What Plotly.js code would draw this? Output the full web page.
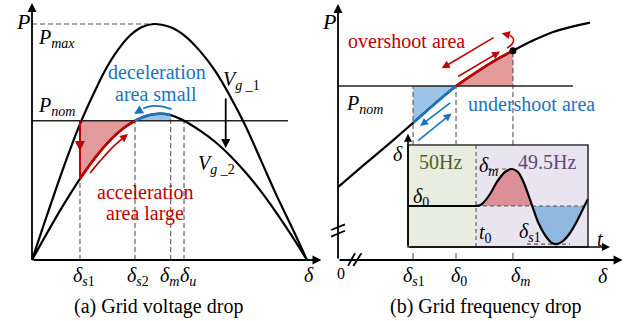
<!DOCTYPE html>
<html><head><meta charset="utf-8">
<script src="https://cdn.plot.ly/plotly-3.0.1.min.js"></script>
<style>html,body{margin:0;padding:0;background:#fff}</style>
</head><body><div id="chart" style="width:630px;height:321px"></div>
<script>
// ---------- Panel (a): power-angle curves (delta in degrees, P per unit of Pmax) ----------
const deltaVg1 = [0,8,16,24,32,40,48,56,64,72,80,90,100,110,120,130,140,150,160,170,180];
const pVg1     = [0,0.155,0.307,0.452,0.585,0.70,0.805,0.888,0.95,0.987,1.0,0.988,0.95,0.885,0.80,0.69,0.565,0.42,0.275,0.14,0];
const deltaVg2 = [0,10,20,31.4,42,52,60,67.4,76,83.8,90.8,99.5,110,120,130,140,150,160,170,180];
const pVg2     = [0,0.116,0.227,0.344,0.439,0.513,0.559,0.59,0.613,0.62,0.614,0.59,0.548,0.50,0.44,0.37,0.29,0.20,0.103,0];
const PnomA = 0.59, PmaxA = 1.0;
const tickValsA = [31.4, 67.4, 90.8, 99.5];
const tickTextA = ['<i>δ</i><sub><i>s</i>1</sub>','<i>δ</i><sub><i>s</i>2</sub>','<i>δ</i><sub><i>m</i></sub>','<i>δ</i><sub><i>u</i></sub>'];

// ---------- Panel (b): P-delta curve near operating point ----------
const deltaB = [0,9.7,19.4,26.9,34.4,42.3,49.1,55.9,62.7,69.9,77.1,83.9,90.3];
const pB     = [0.309,0.407,0.504,0.581,0.659,0.737,0.792,0.843,0.887,0.930,0.966,0.989,1.006];
const PnomB = 0.737;
const tickValsB = [26.9, 42.3, 62.7];
const tickTextB = ['<i>δ</i><sub><i>s</i>1</sub>','<i>δ</i><sub>0</sub>','<i>δ</i><sub><i>m</i></sub>'];

// ---------- Inset: delta(t) ----------
const tIn = [0,0.378,0.4,0.417,0.456,0.494,0.539,0.578,0.611,0.644,0.69,0.722,0.761,0.8,0.828,0.861,0.9,0.939,0.98,1.0];
const dIn = [0,0,0.02,0.081,0.324,0.649,0.919,1.0,0.919,0.622,0,-0.432,-0.784,-1.0,-1.03,-0.946,-0.73,-0.405,0,0.189];
const t0 = 0.378;

const W = 630, H = 321;
const FONT = '"Liberation Serif", "Times New Roman", "DejaVu Serif", serif';
const RED = '#c00000', BLUE = '#1a73c0', GREY = '#555555';
const REDFILL = '#e39a9a', BLUEFILL = '#9dc3e6';

function tr(x, y, xa, ya, color, width, extra) {
  return Object.assign({type:'scatter', mode:'lines', x:x, y:y, xaxis:xa, yaxis:ya,
    line:{color:color, width:width}, hoverinfo:'skip', showlegend:false}, extra || {});
}
function spline(color, width, sm) { return {shape:'spline', smoothing:sm || 1, color:color, width:width}; }
function at(arr, val) { return arr.indexOf(val); }

const traces = [];
// ---- panel (a)
const iS1 = at(deltaVg2, tickValsA[0]), iS2 = at(deltaVg2, tickValsA[1]), iM = at(deltaVg2, tickValsA[2]);
traces.push(tr([tickValsA[0], tickValsA[1]].concat(deltaVg2.slice(iS1, iS2+1).reverse()),
               [PnomA, PnomA].concat(pVg2.slice(iS1, iS2+1).reverse()), 'x','y', REDFILL, 0,
               {fill:'toself', fillcolor:REDFILL}));
traces.push(tr([tickValsA[1]].concat(deltaVg2.slice(iS2, iM+1), [tickValsA[2]]),
               [PnomA].concat(pVg2.slice(iS2, iM+1), [PnomA]), 'x','y', BLUEFILL, 0,
               {fill:'toself', fillcolor:BLUEFILL}));
const peakA = deltaVg1[pVg1.indexOf(PmaxA)];
traces.push(tr([0, peakA], [PmaxA, PmaxA], 'x','y', GREY, 1.1, {line:{color:GREY,width:1.1,dash:'5px,3px'}}));
const dashX = [], dashY = [];
tickValsA.forEach((v, k) => {
  const top = (k === 1 || k === 3) ? PnomA : pVg2[at(deltaVg2, v)];
  dashX.push(v, v, null); dashY.push(0, top, null);
});
traces.push(tr(dashX, dashY, 'x','y', GREY, 1.1, {line:{color:GREY,width:1.1,dash:'5px,3px'}}));
traces.push(tr([0, 167.6], [PnomA, PnomA], 'x','y', '#222', 1.6));
traces.push(tr(deltaVg1, pVg1, 'x','y', '#000', 2.2, {line:spline('#000',2.2)}));
traces.push(tr(deltaVg2, pVg2, 'x','y', '#000', 2.2, {line:spline('#000',2.2)}));
traces.push(tr(deltaVg2.slice(iS1, iS2+1), pVg2.slice(iS1, iS2+1), 'x','y', RED, 2.6, {line:spline(RED,2.6)}));
traces.push(tr(deltaVg2.slice(iS2, iM+1), pVg2.slice(iS2, iM+1), 'x','y', BLUE, 2.6, {line:spline(BLUE,2.6)}));
traces.push(tr([tickValsA[0], tickValsA[0]], [PnomA, pVg2[iS1]], 'x','y', RED, 2));
traces.push(tr([38, 44.5, 52.4, 58.9], [0.369, 0.419, 0.475, 0.513], 'x','y', RED, 1.6, {line:spline(RED,1.6)}));
traces.push(tr([91.4, 85.7, 79.2, 72.7], [0.639, 0.650, 0.653, 0.642], 'x','y', BLUE, 1.8, {line:spline(BLUE,1.8)}));

// ---- panel (b)
const jS1 = at(deltaB, tickValsB[0]), j0 = at(deltaB, tickValsB[1]), jM = at(deltaB, tickValsB[2]);
traces.push(tr([tickValsB[0]].concat(deltaB.slice(jS1, j0+1)), [PnomB].concat(pB.slice(jS1, j0+1)),
               'x2','y2', BLUEFILL, 0, {fill:'toself', fillcolor:BLUEFILL}));
traces.push(tr(deltaB.slice(j0, jM+1).concat([tickValsB[2]]), pB.slice(j0, jM+1).concat([PnomB]),
               'x2','y2', REDFILL, 0, {fill:'toself', fillcolor:REDFILL}));
const insetTopP = 0.487;
const dx2 = [], dy2 = [], tx2 = [], ty2 = [];
tickValsB.forEach((v, k) => {
  const top = k === 2 ? pB[jM] : PnomB;
  dx2.push(v, v, null); dy2.push(insetTopP, top, null);
  tx2.push(v, v, null); ty2.push(0, 0.03, null);
});
traces.push(tr(dx2, dy2, 'x2','y2', GREY, 1.1, {line:{color:GREY,width:1.1,dash:'5px,3px'}}));
traces.push(tr(tx2, ty2, 'x2','y2', GREY, 1.1));
traces.push(tr([0, 84.2], [PnomB, PnomB], 'x2','y2', '#222', 1.6));
traces.push(tr(deltaB, pB, 'x2','y2', '#000', 2.2, {line:spline('#000',2.2)}));
traces.push(tr(deltaB.slice(jS1, j0+1), pB.slice(jS1, j0+1), 'x2','y2', BLUE, 2.6, {line:spline(BLUE,2.6)}));
traces.push(tr(deltaB.slice(j0, jM+1), pB.slice(j0, jM+1), 'x2','y2', RED, 2.6, {line:spline(RED,2.6)}));
traces.push({type:'scatter', mode:'markers', x:[deltaB[jM]], y:[pB[jM]], xaxis:'x2', yaxis:'y2',
             marker:{color:'#000', size:7}, hoverinfo:'skip', showlegend:false});
traces.push(tr([60.6, 62.4, 62.9, 61.6], [0.898, 0.915, 0.936, 0.953], 'x2','y2', RED, 1.6, {line:spline(RED,1.6)}));
traces.push(tr([-2.5, 2.5, null, -2.5, 2.5], [0.127, 0.151, null, 0.099, 0.124], 'x2','y2', '#000', 1.8));
traces.push(tr([3.6, 6.1, null, 5.5, 8.4], [-0.025, 0.029, null, -0.025, 0.029], 'x2','y2', '#000', 1.8));

// ---- inset
const kT0 = at(tIn, t0), kC1 = dIn.indexOf(0, kT0 + 2), kC2 = dIn.indexOf(0, kC1 + 1);
traces.push(tr(tIn.slice(kT0, kC1+1), dIn.slice(kT0, kC1+1), 'x3','y3', '#dc8f96', 0,
               {fill:'toself', fillcolor:'#dc8f96', line:{shape:'spline', smoothing:0.8, width:0, color:'#dc8f96'}}));
traces.push(tr(tIn.slice(kC1, kC2+1), dIn.slice(kC1, kC2+1), 'x3','y3', '#8fb8e0', 0,
               {fill:'toself', fillcolor:'#8fb8e0', line:{shape:'spline', smoothing:0.8, width:0, color:'#8fb8e0'}}));
traces.push(tr([t0, 1, null, 0.444, tIn[dIn.indexOf(1.0)], null, 0.661, 0.9, null, t0, t0],
               [0, 0, null, 1.0, 1.0, null, -1.03, -1.03, null, -1.108, 1.649], 'x3','y3', GREY, 1.1,
               {line:{color:GREY, width:1.1, dash:'4px,3px'}}));
traces.push(tr(tIn.slice(0, kT0+1), dIn.slice(0, kT0+1), 'x3','y3', '#000', 2.2));
traces.push(tr(tIn.slice(kT0), dIn.slice(kT0), 'x3','y3', '#000', 2.2, {line:spline('#000',2.2,0.8)}));

const shapes = [
  {type:'rect', xref:'x3', yref:'y3', x0:0, x1:t0, y0:-1.108, y1:1.649, fillcolor:'#e9ede0', line:{width:0}, layer:'below'},
  {type:'rect', xref:'x3', yref:'y3', x0:t0, x1:1, y0:-1.108, y1:1.649, fillcolor:'#e8e5f0', line:{width:0}, layer:'below'},
  {type:'rect', xref:'x3', yref:'y3', x0:0, x1:1, y0:-1.108, y1:1.649, line:{color:'#333', width:1.6}, layer:'above'}
];

function arrow(xa, ya, x, y, ax, ay, color, width) {
  return {xref:xa, yref:ya, axref:xa, ayref:ya, x:x, y:y, ax:ax, ay:ay, text:'', showarrow:true,
          arrowhead:2, arrowsize:1, arrowwidth:width || 1.6, arrowcolor:color || '#000', standoff:0};
}
function lab(text, left, cy, color, size, extra) {
  return Object.assign({xref:'paper', yref:'paper', x:left / W, y:1 - cy / H, xanchor:'left', yanchor:'middle',
    text:text, showarrow:false, font:{family:FONT, size:size || 20, color:color || '#000'}}, extra || {});
}
function tick(xa, v, text, shift) {
  return {xref:xa, yref:'paper', x:v, y:1 - 276 / H, xanchor:'left', yanchor:'middle', xshift:shift,
          text:text, showarrow:false, font:{family:FONT, size:20, color:'#000'}};
}

const annotations = [
  arrow('x','y', 0, 1.089, 0, 0, '#000', 1.8),
  arrow('x','y', 189.5, 0, 0, 0, '#000', 1.8),
  arrow('x2','y2', 0, 1.085, 0, 0, '#000', 1.8),
  arrow('x2','y2', 102, 0, 0, 0, '#000', 1.8),
  arrow('x3','y3', 0, 1.95, 0, -1.108, '#000', 1.6),
  arrow('x3','y3', 1.122, -1.108, 0, -1.108, '#000', 1.6),
  arrow('x','y', 126.8, 0.475, 126.8, 0.691, '#000', 1.8),
  arrow('x','y', tickValsA[0], 0.462, tickValsA[0], PnomA, RED, 2),
  arrow('x','y', 62.8, 0.534, 58.9, 0.513, RED, 1.6),
  arrow('x','y', 66.8, 0.619, 72.7, 0.642, BLUE, 1.8),
  arrow('x2','y2', 37.2, 0.812, 56.3, 0.946, RED, 1.6),
  arrow('x2','y2', 58.1, 0.883, 42.5, 0.774, RED, 1.6),
  arrow('x2','y2', 58.7, 0.961, 61.6, 0.953, RED, 1.6),
  arrow('x2','y2', 29.4, 0.568, 40.75, 0.671, BLUE, 1.6),
  arrow('x2','y2', 40.75, 0.622, 28.2, 0.501, BLUE, 1.6),
  lab('<i>P</i>', 14, 21, '#000', 22),
  lab('<i>P</i><sub><i>max</i></sub>', 36, 38),
  lab('<i>P</i><sub><i>nom</i></sub>', 36, 107),
  lab('<i>V</i><sub><i>g</i> _1</sub>', 221, 80),
  lab('<i>V</i><sub><i>g</i> _2</sub>', 196, 165),
  lab('deceleration', 157, 72, BLUE, 20, {xanchor:'center'}),
  lab('area small', 156, 94, BLUE, 20, {xanchor:'center'}),
  lab('acceleration', 145, 192, RED, 20, {xanchor:'center'}),
  lab('area large', 145, 213, RED, 20, {xanchor:'center'}),
  lab('<i>δ</i>', 302, 275),
  lab('(a) Grid voltage drop', 158, 306, '#000', 20, {xanchor:'center'}),
  lab('<i>P</i>', 320, 21, '#000', 22),
  lab('overshoot area', 346, 41, RED),
  lab('undershoot area', 466, 104, BLUE),
  lab('<i>P</i><sub><i>nom</i></sub>', 344, 104),
  lab('0', 341, 273, '#000', 16, {xanchor:'center'}),
  lab('<i>δ</i>', 596, 276),
  lab('(b) Grid frequency drop', 486, 306, '#000', 20, {xanchor:'center'}),
  lab('<i>δ</i>', 391, 154),
  lab('50Hz', 417, 162, '#4f6228'),
  lab('49.5Hz', 516, 162, '#5f497a'),
  lab('<i>δ</i><sub><i>m</i></sub>', 477, 167),
  lab('<i>δ</i><sub>0</sub>', 411, 197),
  lab('<i>t</i><sub>0</sub>', 477, 233),
  lab('<i>δ</i><sub><i>s</i>1</sub>', 517, 232),
  lab('<i>t</i>', 595, 239)
];
const shiftsA = [-9, -10, -13, -6], shiftsB = [-12, -7, -4];
tickValsA.forEach((v, k) => annotations.push(tick('x', v, tickTextA[k], shiftsA[k])));
tickValsB.forEach((v, k) => annotations.push(tick('x2', v, tickTextB[k], shiftsB[k])));

const hidden = {visible:false, fixedrange:true, autorange:false};
const layout = {
  width:W, height:H, margin:{l:0, r:0, t:0, b:0}, paper_bgcolor:'#fff', plot_bgcolor:'#fff',
  showlegend:false, font:{family:FONT},
  xaxis: Object.assign({range:[-20.945, 391.418]}, hidden),
  yaxis: Object.assign({range:[-0.2585, 1.1017]}, hidden),
  xaxis2: Object.assign({range:[-121.147, 104.659], overlaying:'x', anchor:'y2'}, hidden),
  yaxis2: Object.assign({range:[-0.2585, 1.1017], overlaying:'y', anchor:'x2'}, hidden),
  xaxis3: Object.assign({range:[-2.2667, 1.2333], overlaying:'x', anchor:'y3'}, hidden),
  yaxis3: Object.assign({range:[-3.108, 5.5676], overlaying:'y', anchor:'x3'}, hidden),
  shapes: shapes, annotations: annotations
};
Plotly.newPlot('chart', traces, layout, {staticPlot:true, displayModeBar:false});
</script></body></html>
